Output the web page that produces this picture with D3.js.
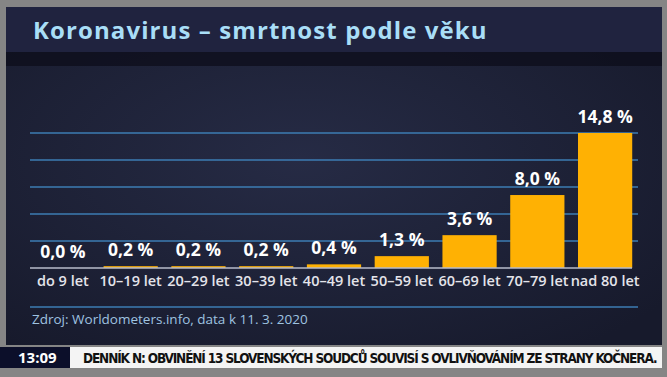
<!DOCTYPE html>
<html>
<head>
<meta charset="utf-8">
<script src="https://cdn.jsdelivr.net/npm/d3@7"></script>
<style>
  body { margin: 0; background: #7d7d7d; }
  svg { display: block; }
</style>
</head>
<body>
<div id="chart"></div>
<script>
// data
const categories = ["do 9 let", "10–19 let", "20–29 let", "30–39 let", "40–49 let",
                    "50–59 let", "60–69 let", "70–79 let", "nad 80 let"];
const values = [0.0, 0.2, 0.2, 0.2, 0.4, 1.3, 3.6, 8.0, 14.8];
const gridValues = [2.96, 5.92, 8.88, 11.84, 14.8];

const title = "Koronavirus – smrtnost podle věku";
const source = "Zdroj: Worldometers.info, data k 11. 3. 2020";
const tickerTime = "13:09";
const tickerText = "DENNÍK N: OBVINĚNÍ 13 SLOVENSKÝCH SOUDCŮ SOUVISÍ S OVLIVŇOVÁNÍM ZE STRANY KOČNERA.";

const W = 667, H = 377;
const font = "'Open Sans', 'DejaVu Sans', sans-serif";
const czech = d3.formatLocale({decimal: ",", thousands: " ", grouping: [3], currency: ["", " Kč"]});
const fmt = czech.format(".1f");

const svg = d3.select("#chart").append("svg")
    .attr("width", W)
    .attr("height", H);

const defs = svg.append("defs");
const grad = defs.append("radialGradient").attr("id", "panelbg")
    .attr("cx", "45%").attr("cy", "45%").attr("r", "70%");
grad.append("stop").attr("offset", "0%").attr("stop-color", "#262b45");
grad.append("stop").attr("offset", "100%").attr("stop-color", "#171a2c");

// outer grey frame
svg.append("rect").attr("width", W).attr("height", H).attr("fill", "#858585");

// main panel + title bar
svg.append("rect").attr("x", 6).attr("y", 7).attr("width", 656).attr("height", 338)
    .attr("fill", "url(#panelbg)");
svg.append("rect").attr("x", 6).attr("y", 7).attr("width", 656).attr("height", 45)
    .attr("fill", "#20233f");
svg.append("rect").attr("x", 6).attr("y", 52).attr("width", 656).attr("height", 14)
    .attr("fill", "#0b0c18").attr("opacity", 0.7);

svg.append("text")
    .attr("x", 33).attr("y", 39)
    .attr("font-family", font).attr("font-weight", 700).attr("font-size", 24)
    .attr("letter-spacing", 1.1)
    .attr("fill", "#a9def7")
    .text(title);

const x = d3.scaleBand().domain(categories).range([29, 639])
    .paddingInner(0.2).paddingOuter(0.1);
const y = d3.scaleLinear().domain([0, 14.8]).range([268, 133]);

// gridlines
svg.append("g").selectAll("line")
    .data(gridValues)
    .join("line")
    .attr("x1", 30).attr("x2", 638)
    .attr("y1", d => y(d)).attr("y2", d => y(d))
    .attr("stroke", "#3c7db3").attr("stroke-width", 1.3);

// bars
svg.append("g").selectAll("rect")
    .data(values)
    .join("rect")
    .attr("x", (d, i) => x(categories[i]))
    .attr("width", x.bandwidth())
    .attr("y", d => y(d))
    .attr("height", d => y(0) - y(d))
    .attr("fill", "#ffb103");

// baseline
svg.append("line")
    .attr("x1", 30).attr("x2", 632)
    .attr("y1", y(0)).attr("y2", y(0))
    .attr("stroke", "#b9bccb").attr("stroke-width", 1.5);

// value labels
svg.append("g").selectAll("text")
    .data(values)
    .join("text")
    .attr("x", (d, i) => x(categories[i]) + x.bandwidth() / 2)
    .attr("y", d => y(d) - 10)
    .attr("text-anchor", "middle")
    .attr("font-family", font).attr("font-weight", 700).attr("font-size", 17.5)
    .attr("fill", "#ffffff")
    .text(d => fmt(d) + " %");

// category labels
const xAxis = d3.axisBottom(x).tickSize(0).tickPadding(0);
const gx = svg.append("g").attr("transform", "translate(0,275)").call(xAxis);
gx.select(".domain").remove();
gx.selectAll("text")
    .attr("dy", "0.77em")
    .attr("font-family", font).attr("font-weight", 600).attr("font-size", 14.5)
    .attr("fill", "#e4e4ea");

// lower rule + source
svg.append("line")
    .attr("x1", 30).attr("x2", 638).attr("y1", 307).attr("y2", 307)
    .attr("stroke", "#3c7db3").attr("stroke-width", 1.3);
svg.append("text")
    .attr("x", 32).attr("y", 324)
    .attr("font-family", font).attr("font-size", 13.5)
    .attr("fill", "#9fc3e0")
    .text(source);

// ticker
svg.append("rect").attr("x", 0).attr("y", 347).attr("width", 70).attr("height", 21)
    .attr("fill", "#0c0f2a");
svg.append("rect").attr("x", 70).attr("y", 347).attr("width", 592).attr("height", 21)
    .attr("fill", "#f4f4f4");
svg.append("text")
    .attr("x", 18).attr("y", 363)
    .attr("font-family", font).attr("font-weight", 700).attr("font-size", 15)
    .attr("fill", "#ffffff")
    .text(tickerTime);
svg.append("text")
    .attr("x", 83).attr("y", 363)
    .attr("font-family", "'Liberation Sans Narrow', 'DejaVu Sans Condensed', sans-serif")
    .attr("font-weight", 700).attr("font-size", 13.5)
    .attr("letter-spacing", -1.14)
    .attr("fill", "#111111")
    .text(tickerText);
</script>
</body>
</html>
